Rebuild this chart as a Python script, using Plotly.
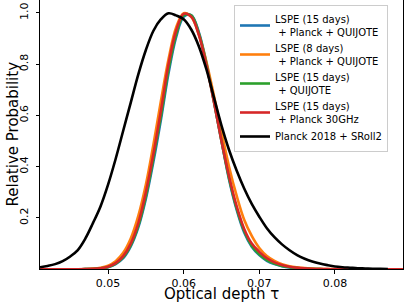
import plotly.graph_objects as go

tau = [round(0.041 + 0.001 * i, 3) for i in range(49)]  # 0.041 ... 0.089

# values at each tau grid point
lspe15_pq = [0, 0, 0, 0, 0, 0, 0.0004, 0.0011, 0.0032, 0.0082, 0.020, 0.043, 0.089, 0.163, 0.275, 0.42, 0.585, 0.765, 0.905, 0.985,
             0.991, 0.925, 0.805, 0.655, 0.50, 0.35, 0.232, 0.143, 0.088, 0.055, 0.033, 0.020, 0.012, 0.007, 0.004, 0.002, 0.001, 0.0005,
             0, 0, 0, 0, 0, 0, 0, 0, 0, 0, 0]
lspe8_pq = [0, 0, 0, 0, 0, 0, 0.0008, 0.0023, 0.006, 0.0143, 0.0316, 0.064, 0.12, 0.208, 0.33, 0.487, 0.658, 0.82, 0.943, 0.998,
            0.984, 0.916, 0.809, 0.677, 0.536, 0.40, 0.287, 0.193, 0.13, 0.083, 0.052, 0.033, 0.020, 0.012, 0.0075, 0.0045, 0.0027, 0.0015,
            0.0008, 0.0004, 0, 0, 0, 0, 0, 0, 0, 0, 0]
lspe15_q = [0, 0, 0, 0, 0, 0, 0.0004, 0.0012, 0.0035, 0.009, 0.022, 0.047, 0.094, 0.17, 0.285, 0.435, 0.60, 0.78, 0.915, 0.99,
            0.99, 0.92, 0.80, 0.653, 0.50, 0.355, 0.238, 0.15, 0.092, 0.058, 0.036, 0.022, 0.013, 0.008, 0.0045, 0.0025, 0.0012, 0.0006,
            0, 0, 0, 0, 0, 0, 0, 0, 0, 0, 0]
lspe15_p30 = [0, 0, 0, 0, 0, 0.0001, 0.0005, 0.0014, 0.004, 0.010, 0.024, 0.051, 0.10, 0.18, 0.30, 0.45, 0.62, 0.80, 0.93, 0.996,
              0.985, 0.914, 0.796, 0.652, 0.50, 0.362, 0.246, 0.157, 0.10, 0.068, 0.043, 0.027, 0.017, 0.010, 0.006, 0.0035, 0.002, 0.001,
              0.0005, 0, 0, 0, 0, 0, 0, 0, 0, 0, 0]
planck_sroll2 = [0.008, 0.013, 0.02, 0.032, 0.05, 0.075, 0.12, 0.18, 0.245, 0.33, 0.43, 0.54, 0.65, 0.76, 0.855, 0.93, 0.975, 0.998,
                 0.99, 0.975, 0.935, 0.87, 0.78, 0.67, 0.56, 0.465, 0.385, 0.315, 0.255, 0.205, 0.16, 0.125, 0.097, 0.074, 0.055,
                 0.041, 0.03, 0.022, 0.016, 0.011, 0.008, 0.006, 0.004, 0.003, 0.002, 0.0015, 0.001, None, None]

names = ["LSPE (15 days)<br>\u00a0+ Planck + QUIJOTE",
         "LSPE (8 days)<br>\u00a0+ Planck + QUIJOTE",
         "LSPE (15 days)<br>\u00a0+ QUIJOTE",
         "LSPE (15 days)<br>\u00a0+ Planck 30GHz",
         "Planck 2018 + SRoll2"]
colors = ["#1f77b4", "#ff7f0e", "#2ca02c", "#d62728", "#000000"]
series = [lspe15_pq, lspe8_pq, lspe15_q, lspe15_p30, planck_sroll2]

x_ticks = [0.05, 0.06, 0.07, 0.08]
x_ticktext = ["0.05", "0.06", "0.07", "0.08"]
y_ticks = [0.2, 0.4, 0.6, 0.8, 1.0]
y_ticktext = ["0.2", "0.4", "0.6", "0.8", "1.0"]

fig = go.Figure()
for n, c, s in zip(names, colors, series):
    fig.add_trace(go.Scatter(x=tau, y=s, mode="lines", name=n,
                             line=dict(color=c, width=2.6, shape="spline", smoothing=1.0)))

font = "DejaVu Sans, Arial, sans-serif"
T, B, L, R = 0, 34, 40, 1
H_PLOT = 303 - T - B
W_PLOT = 404 - L - R
fig.update_layout(
    width=404, height=303,
    margin=dict(l=L, r=R, t=T, b=B, autoexpand=False),
    paper_bgcolor="white", plot_bgcolor="white",
    font=dict(family=font, color="black", size=11),
    showlegend=True,
    legend=dict(x=(234 - L) / W_PLOT, y=1 - 5 / H_PLOT, xanchor="left", yanchor="top",
                bgcolor="rgba(255,255,255,0.8)", bordercolor="#cccccc", borderwidth=1,
                font=dict(size=10, family=font), itemwidth=30),
    xaxis=dict(range=[0.041, 0.089], tickvals=x_ticks, ticktext=x_ticktext,
               showline=True, linecolor="black", linewidth=1, mirror=True,
               ticks="outside", ticklen=3.5, tickcolor="black", showgrid=False, zeroline=False,
               tickfont=dict(size=11), automargin=False),
    yaxis=dict(range=[0.001, 1.05], tickvals=y_ticks, ticktext=y_ticktext, tickangle=-90,
               showline=True, linecolor="black", linewidth=1, mirror=True,
               ticks="outside", ticklen=3.5, tickcolor="black", showgrid=False, zeroline=False,
               tickfont=dict(size=11), automargin=False, ticklabelstandoff=3),
    annotations=[
        dict(text="Optical depth τ", xref="paper", yref="paper", x=0.5, y=-(293.5 - H_PLOT) / H_PLOT,
             xanchor="center", yanchor="middle", showarrow=False, font=dict(size=15)),
        dict(text="Relative Probability", xref="paper", yref="paper", x=-(L - 12) / W_PLOT, y=0.5,
             xanchor="center", yanchor="middle", textangle=-90, showarrow=False, font=dict(size=15)),
    ],
)
fig.write_html("out.html", config={"displayModeBar": False},
               post_script="document.body.style.margin='0';document.body.style.overflow='hidden';")
